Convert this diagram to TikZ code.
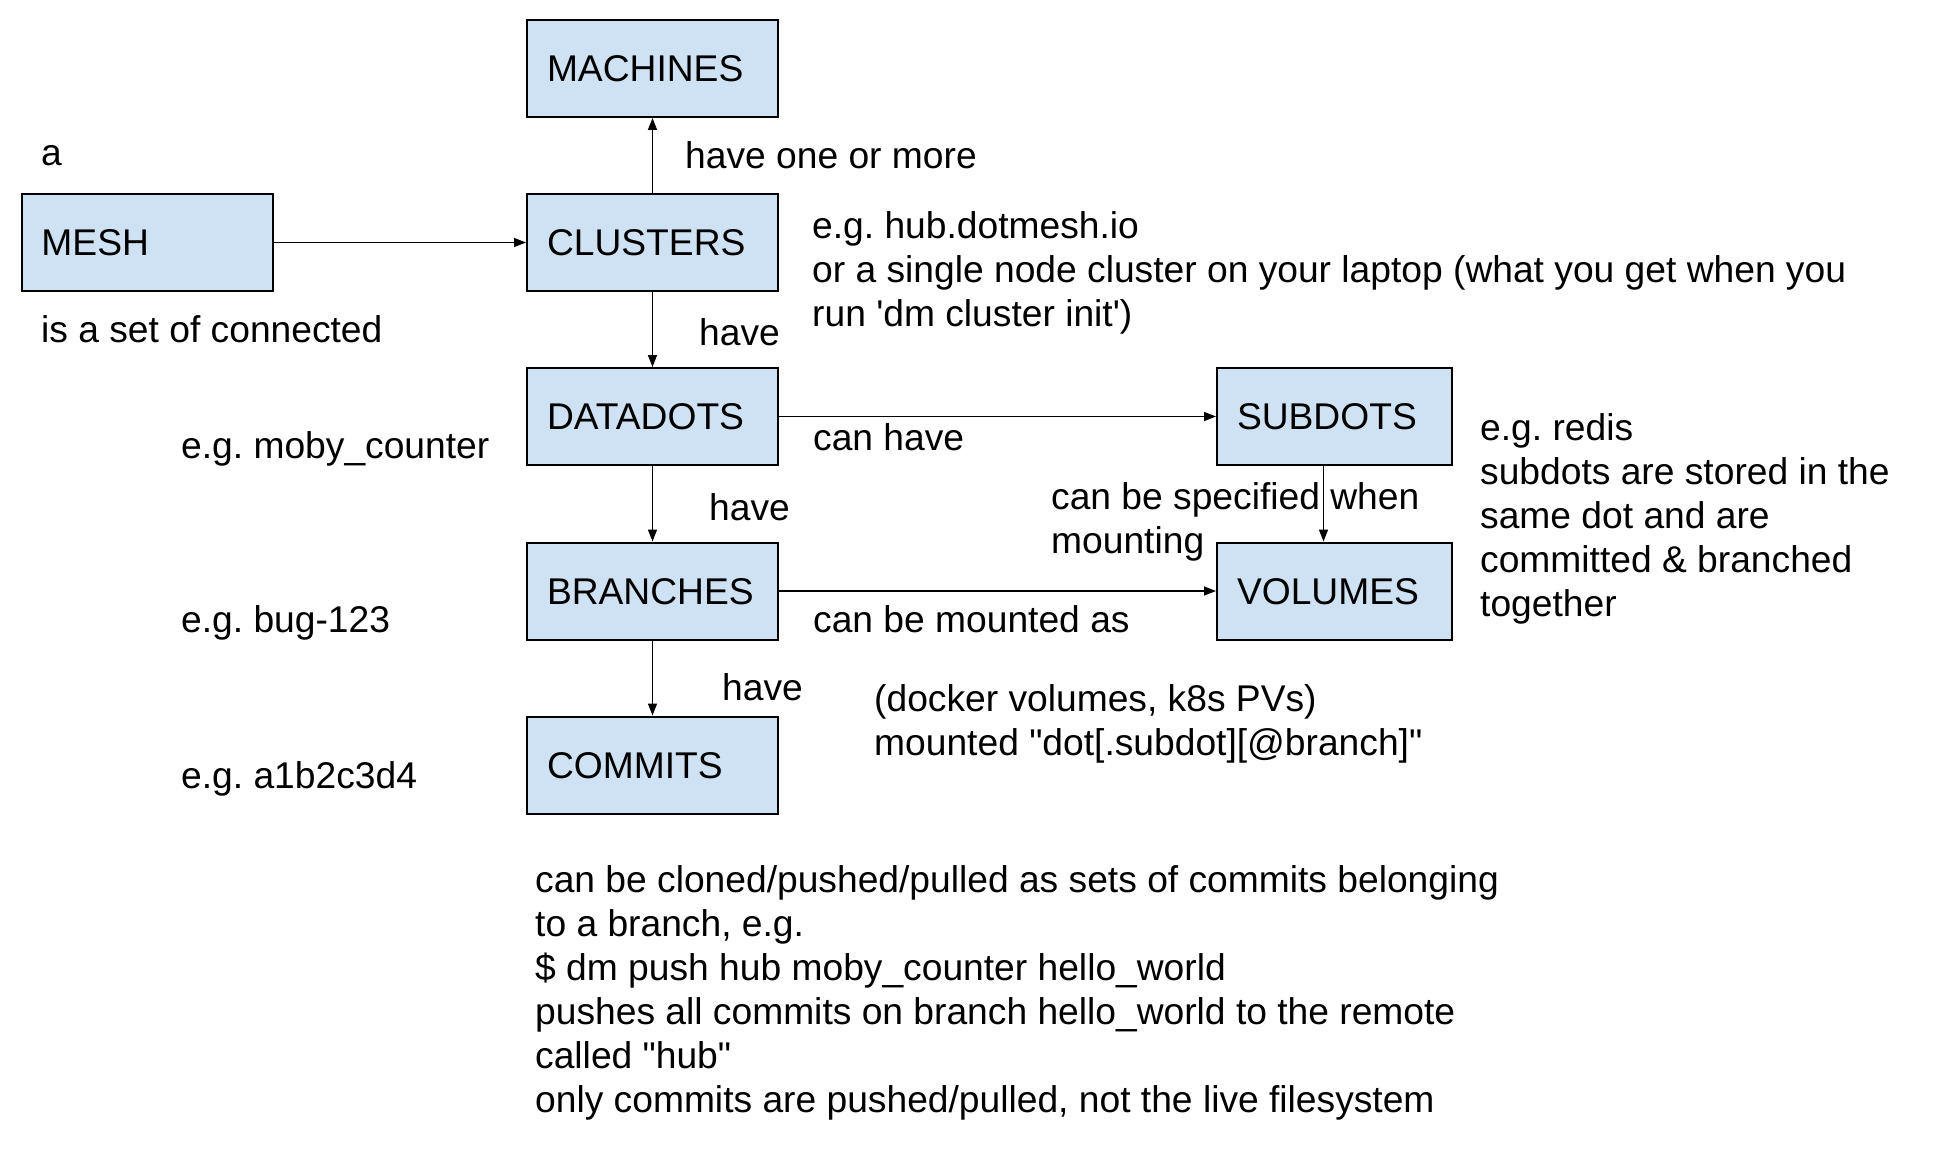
\documentclass[tikz,border=0pt]{standalone}
\usepackage{fontspec}
\setmainfont{Liberation Sans}
\usetikzlibrary{arrows.meta}

\begin{document}
\frenchspacing
\begin{tikzpicture}[
    x=1pt, y=-1pt,
    every node/.style={font=\fontsize{37.2}{44}\selectfont},
]

% ---------------------------------------------------------------- colours
\definecolor{boxfill}{HTML}{CFE2F3}   % the entity boxes
\definecolor{ink}{HTML}{000000}       % borders, arrows and all text

% ---------------------------------------------------------------- styles
\tikzset{
    entity/.style={
        rectangle, draw=ink, line width=2pt, fill=boxfill,
        minimum width=251pt, minimum height=97pt,
        inner xsep=20pt, inner ysep=0pt,
        text width=211pt, align=left, text height=26.5pt, text depth=0pt,
    },
    narrow/.style={minimum width=235pt, text width=195pt},
    note/.style={anchor=base west, inner sep=0pt, align=left, text=ink},
    % several lines: the base anchor sits mid-block, so hang it by its top
    block/.style={note, anchor=north west},
    link/.style={
        -{Triangle[length=12pt, width=9pt]}, line width=1.5pt, draw=ink,
    },
}

% ================================================================
% GEOMETRY (pixels of the 1936 x 1158 sheet, y grows downward)
%   main column    x = 652.5, rows y = 68.5 / 242.5 / 416.5 / 591 / 765
%   mesh           x = 147
%   right column   x = 1334.5
%   one-line notes sit on their baseline, blocks hang 27 above it
% ================================================================

\useasboundingbox (0,0) rectangle (1936,1158);

% ---------------------------------------------------------------- the boxes
\node[entity] (machines) at (652.5, 68.5)  {MACHINES};
\node[entity] (clusters) at (652.5, 242.5) {CLUSTERS};
\node[entity] (mesh)     at (147, 242.5)   {MESH};
\node[entity] (datadots) at (652.5, 416.5) {DATADOTS};
\node[entity] (branches) at (652.5, 591)   {BRANCHES};
\node[entity] (commits)  at (652.5, 765)   {COMMITS};
\node[entity, narrow] (subdots) at (1334.5, 416.5) {SUBDOTS};
\node[entity, narrow] (volumes) at (1334.5, 591)   {VOLUMES};

% ---------------------------------------------------------------- connectors
\draw[link] (mesh) -- (clusters);
\draw[link] (clusters) -- (machines);
\foreach \a/\b in {clusters/datadots, datadots/branches, branches/commits} {
    \draw[link] (\a) -- (\b);
}
\draw[link] (datadots) -- (subdots);
\draw[link] (branches) -- (volumes);
% this one runs a little left of the centre line
\draw[link] ([xshift=-11pt]subdots.south) -- ([xshift=-11pt]volumes.north);

% ---------------------------------------------------------------- mesh notes
\node[note] (mesh-a)    at (41, 166) {a};
\node[note] (mesh-set)  at (41, 342) {is a set of connected};

% ---------------------------------------------------------------- edge words
\node[note] (l-machines) at (685, 169) {have one or more};
\node[note] (l-datadots) at (699, 345) {have};
\node[note] (l-branches) at (709, 520) {have};
\node[note] (l-commits)  at (722, 700) {have};
\node[note] (l-subdots)  at (813, 450) {can have};
\node[note] (l-volumes)  at (813, 632) {can be mounted as};
\node[block] (l-mounting) at (1051, 482) {can be specified when\\mounting};

% ---------------------------------------------------------------- examples
\node[block] (ex-clusters) at (812, 211)
    {e.g. hub.dotmesh.io\\
     or a single node cluster on your laptop (what you get when you\\
     run \textquotesingle dm cluster init\textquotesingle)};
\node[note] (ex-datadots) at (181, 458) {e.g. moby\_counter};
\node[note] (ex-branches) at (181, 632) {e.g. bug-123};
\node[note] (ex-commits)  at (181, 788) {e.g. a1b2c3d4};
\node[block] (ex-subdots) at (1480, 413)
    {e.g. redis\\subdots are stored in the\\same dot and are\\
     committed \& branched\\together};
\node[block] (ex-volumes) at (874, 684)
    {(docker volumes, k8s PVs)\\
     mounted \textquotedbl dot[.subdot][@branch]\textquotedbl};

% ---------------------------------------------------------------- push/pull
\node[block] (ex-remote) at (535, 865)
    {can be cloned/pushed/pulled as sets of commits belonging\\
     to a branch, e.g.\\
     \$ dm push hub moby\_counter hello\_world\\
     pushes all commits on branch hello\_world to the remote\\
     called \textquotedbl hub\textquotedbl\\
     only commits are pushed/pulled, not the live filesystem};

\end{tikzpicture}
\end{document}
